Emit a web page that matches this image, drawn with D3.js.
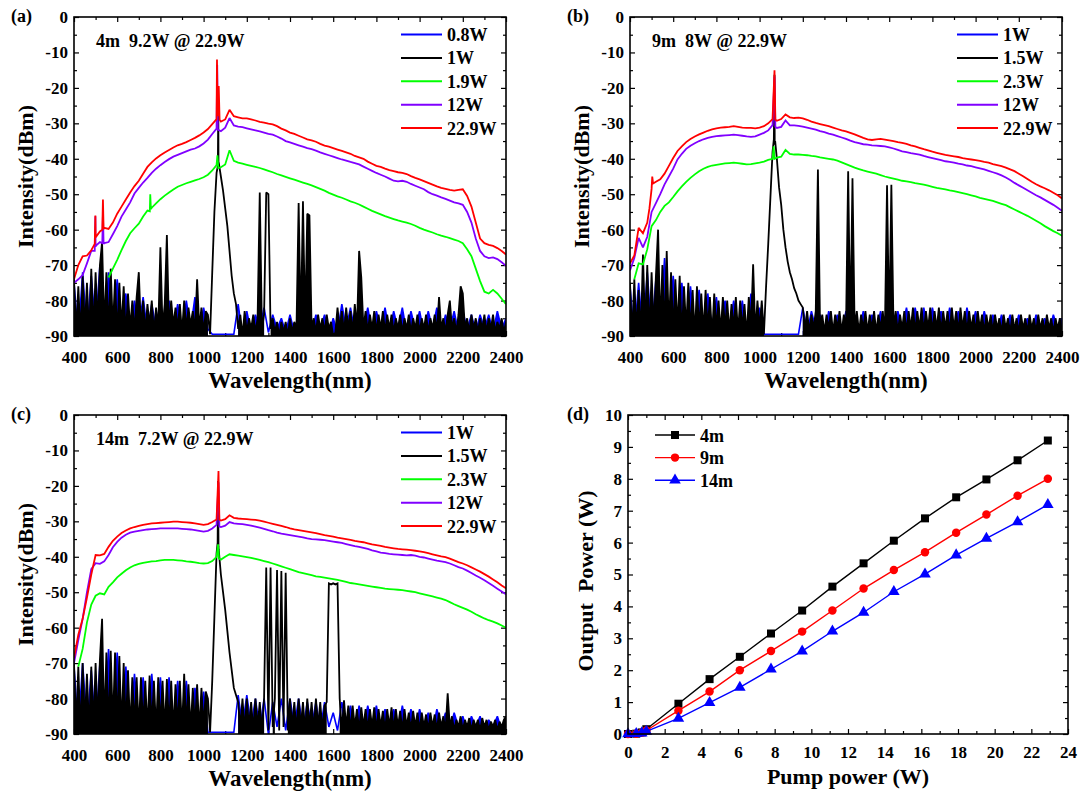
<!DOCTYPE html>
<html><head><meta charset="utf-8">
<script src="https://cdnjs.cloudflare.com/ajax/libs/d3/7.8.5/d3.min.js"></script>
<style>
body{margin:0;background:#fff}
svg{display:block}
</style></head>
<body><svg id="c" width="1084" height="791"></svg>
<script>
// ---------------- DATA ----------------
const wl20 = d3.range(400, 2401, 20);   // 101 wavelengths (nm)
const wl10 = d3.range(400, 2401, 10);   // 201 wavelengths (nm)
const specXTicks = [400,600,800,1000,1200,1400,1600,1800,2000,2200,2400];
const specYTicks = [0,-10,-20,-30,-40,-50,-60,-70,-80,-90];
const legendA = ["0.8W","1W","1.9W","12W","22.9W"];
const legendB = ["1W","1.5W","2.3W","12W","22.9W"];
const legendC = ["1W","1.5W","2.3W","12W","22.9W"];
const noteA = "4m  9.2W @ 22.9W";
const noteB = "9m  8W @ 22.9W";
const noteC = "14m  7.2W @ 22.9W";

// ---- panel (a) 4 m ----
const a_blue = [
-75,-90,-72,-89,-73,-88,-70,-90,-72,-89,
-74,-88,-78,-89,-80,-88,-79,-89,-81,-88,
-80,-89,-80,-88,-81,-89,-80,-88,-79,-89,
-82,-88,-89.5,-89.5,-89.5,-89.5,-89.5,-89.5,-81,-90,
-83,-89,-84,-88,-82,-89,-84,-88,-85,-89,
-84,-89,-85,-88,-83,-89,-84,-88,-84,-90,
-85,-89,-81,-88,-82,-89,-82,-88,-82,-89,
-83,-88,-82,-89,-83,-88,-82,-89,-83,-88,
-83,-89,-83,-88,-82,-89,-84,-88,-83,-89,
-83,-88,-84,-89,-84,-88,-84,-89,-83,-88,
-85];
const a_black = [
-74,-89,-76,-90,-73,-88,-75,-90,-71,-89,
-72,-87,-70,-63.5,-88,-72,-89,-71,-88,-74,
-90,-75,-88,-76,-90,-78,-88,-80,-89,-79,
-72,-88,-80,-89,-81,-87,-80,-89,-82,-88,
-65,-88,-81,-61.5,-88,-80,-87,-82,-88,-81,
-89,-80,-88,-82,-87,-83,-89,-74,-88,-82,
-89,-83,-84,-89.5,-72,-55,-44,-41,-45,-49,
-54,-59,-66,-73,-78,-81,-88,-84,-90,-83,
-89,-85,-88,-84,-89,-85,-49.5,-88,-84,-49.5,
-50,-88,-85,-89,-86,-90,-86,-89,-86,-90,
-85,-89,-86,-88,-52.5,-88,-52,-87,-55.5,-56,
-88,-85,-89,-84,-88,-85,-89,-84,-88,-86,
-90,-89,-82,-88,-83,-89,-82,-88,-83,-89,
-81,-88,-66,-73.5,-88,-83,-89,-84,-88,-83,
-89,-84,-88,-83,-89,-84,-88,-84,-89,-85,
-88,-84,-89,-85,-88,-84,-89,-85,-88,-84,
-89,-85,-88,-84,-89,-85,-88,-84,-89,-79,
-88,-85,-89,-84,-80,-88,-85,-89,-84,-76,
-78,-88,-85,-89,-84,-88,-85,-89,-85,-88,
-84,-89,-85,-88,-84,-89,-86,-88,-85,-89,
-86];
const a_blackPeak = [[1066,-42],[1068,-25],[1069,-42]];
const a_green = [
null,null,null,null,null,null,null,null,-73.5,-71,
-68.5,-65.8,-63.2,-61,-59.6,-58.3,-56.3,-54.6,-53.8,-52.6,
-51.4,-50.4,-49.5,-48.7,-47.9,-47.4,-46.9,-46.5,-46.1,-45.7,
-45.2,-44.5,-43.3,-41.8,-42.4,-41.6,-37.6,-40.6,-41.1,-41.4,
-41.7,-42,-42.3,-42.6,-43,-43.4,-43.8,-44.3,-44.7,-45.1,
-45.5,-45.9,-46.3,-46.7,-47.1,-47.5,-48,-48.5,-49,-49.6,
-50.1,-50.6,-51,-51.5,-52,-52.4,-52.9,-53.5,-54.1,-54.7,
-55.2,-55.7,-56.2,-56.6,-57,-57.4,-57.7,-58,-58.4,-58.9,
-59.5,-60,-60.4,-60.8,-61.3,-61.7,-62,-62.4,-62.8,-63.2,
-63.8,-65.5,-67.5,-71,-74.5,-77.5,-78,-77,-78,-79.5,
-81];
const a_greenPeak = [[751,-54.8],[753,-50],[756,-54.2],[1064,-39],[1068,-42.6]];
const a_purple = [
-75,-74,-72.8,-69.5,-66,-64.8,-63.5,-63.8,-63.5,-61.3,
-59,-56.3,-54.3,-52.3,-49.8,-48.2,-46.7,-45.4,-44,-42.8,
-41.8,-40.9,-40.1,-39.4,-38.9,-38.4,-37.9,-37.4,-37.1,-36.5,
-35.7,-34.6,-33,-31.5,-32.2,-31.2,-28.5,-30.6,-30.9,-31.1,
-31.4,-31.7,-32,-32.3,-32.6,-33,-33.2,-33.7,-34.3,-35,
-35.4,-35.8,-36.2,-36.6,-37,-37.3,-37.7,-38.2,-38.6,-39,
-39.4,-39.8,-40.2,-40.5,-40.9,-41.2,-41.6,-42.2,-42.8,-43.4,
-44,-44.5,-45,-45.6,-46.2,-46.4,-46.2,-46.5,-47.1,-47.6,
-48.1,-48.6,-49.4,-50,-50.4,-50.9,-51.3,-51.8,-52.3,-52.6,
-53,-55,-58,-62.5,-66,-67.5,-68,-67.8,-68.3,-69.2,
-70.2];
const a_purplePeak = [[496,-66],[499,-56.2],[502,-64.5],[531,-63.8],[534,-55.4],[537,-64],[1063,-13.5],[1066,-31.8]];
const a_red = [
-74,-70,-67.5,-67.3,-65.8,-62,-60.5,-59.5,-59.8,-58,
-55.5,-53.5,-51.5,-49.5,-47.7,-46.2,-44.2,-42.3,-41,-39.9,
-39,-38.2,-37.5,-36.8,-36.2,-35.8,-35.3,-34.7,-34.1,-33.4,
-32.6,-31.6,-30.2,-28.8,-29.5,-28.9,-26.2,-28,-28.3,-28.6,
-28.6,-28.9,-29.2,-29.6,-29.8,-30.1,-30.3,-30.8,-31.5,-32,
-32.6,-33,-33.5,-34,-34.5,-34.8,-35.2,-35.8,-36.3,-36.6,
-37,-37.4,-37.8,-38.2,-38.6,-39.2,-39.6,-40,-40.8,-41.4,
-42,-42.3,-42.8,-43.2,-43.5,-43.8,-44,-44.3,-44.9,-45.4,
-45.8,-46.3,-46.8,-47.3,-47.8,-48.2,-48.5,-48.8,-49,-48.8,
-48.6,-50.5,-53.5,-58,-62.5,-63.8,-64.3,-64.6,-65.2,-66,
-67];
const a_redPeak = [[496,-64],[499,-56],[502,-62],[531,-60],[534,-51.5],[537,-59.8],[1062,-12],[1065,-28],[1070,-19.5],[1074,-29]];

// ---- panel (b) 9 m ----
const b_blue = [
-76,-90,-75,-90,-72,-89,-74,-88,-68,-89,
-73,-88,-75,-89,-76,-88,-77,-89,-78,-88,
-79,-90,-80,-88,-80,-89,-80,-90,-78,-90,
-82,-89.5,-89.5,-89.5,-89.5,-89.5,-89.5,-89.5,-89.5,-89.5,
-82,-89,-83,-88,-84,-90,-83,-88,-84,-89,
-83,-88,-84,-89,-83,-88,-84,-89,-83,-90,
-84,-89,-83,-88,-82,-89,-82,-88,-82,-89,
-82,-88,-83,-89,-82,-88,-83,-89,-82,-88,
-83,-89,-83,-88,-84,-89,-84,-88,-84,-89,
-84,-88,-85,-89,-84,-88,-85,-89,-84,-88,
-85];
const b_black = [
-75,-90,-74,-89,-77,-90,-67,-88,-70,-90,
-72,-88,-73,-60,-88,-70,-89,-66,-88,-72,
-89,-74,-88,-73,-90,-76,-88,-75,-89,-77,
-90,-76,-88,-78,-89,-77,-88,-79,-90,-78,
-88,-80,-89,-79,-88,-80,-89,-81,-88,-79,
-89,-80,-88,-81,-90,-79,-88,-69.8,-89,-80,
-88,-80,-89.5,-76,-64,-51,-38,-36,-40,-48,
-53,-60,-65,-69,-72,-74,-76.5,-78,-80,-81,
-82,-88,-83,-89,-84,-88,-83,-43,-88,-84,
-89,-84,-88,-83,-89,-84,-88,-83,-89,-84,
-88,-43.5,-89,-45.5,-88,-83,-89,-84,-88,-83,
-89,-84,-88,-83,-89,-84,-88,-83,-89,-47.5,
-89,-47.3,-88,-83,-89,-84,-88,-83,-89,-83,
-88,-82,-89,-83,-88,-82,-89,-83,-88,-82,
-89,-83,-88,-82,-89,-83,-88,-83,-89,-82,
-88,-83,-89,-82,-88,-83,-89,-83,-88,-84,
-89,-83,-88,-84,-89,-84,-88,-84,-89,-84,
-88,-85,-89,-84,-88,-85,-89,-84,-88,-85,
-89,-84,-88,-85,-89,-84,-88,-85,-89,-84,
-88,-85,-89,-84,-88,-85,-89,-85,-88,-85,
-89];
const b_blackPeak = [[1066,-34.5],[1069,-16.3],[1072,-35]];
const b_green = [
null,-74,-69.5,-69.8,-65.5,-59,-57.3,-55,-53.3,-52.3,
-50.8,-49.2,-47.8,-46.5,-45.4,-44.4,-43.5,-42.8,-42.3,-41.9,
-41.7,-41.5,-41.3,-41.2,-41.1,-41.2,-41.4,-41.6,-41.5,-41.3,
-41.1,-40.8,-40.3,-40,-39.7,-39.4,-37.5,-38.6,-38.8,-38.8,
-38.9,-39,-39.2,-39.3,-39.6,-39.8,-40,-40.2,-40.5,-41,
-41.5,-42,-42.5,-42.9,-43.3,-43.6,-43.9,-44.2,-44.6,-45,
-45.3,-45.6,-45.9,-46.2,-46.4,-46.6,-46.9,-47.1,-47.3,-47.6,
-47.9,-48.2,-48.4,-48.6,-48.9,-49.1,-49.4,-49.7,-50,-50.3,
-50.6,-51,-51.3,-51.6,-51.9,-52.3,-52.7,-53.1,-53.7,-54.3,
-54.9,-55.5,-56.1,-56.8,-57.5,-58.2,-59,-59.7,-60.4,-61,
-61.7];
const b_greenPeak = [[1065,-36.5],[1069,-40]];
const b_purple = [
-71.5,-68,-62.3,-65,-62,-55,-52.5,-50,-47.2,-45,
-42.8,-40.2,-38.6,-37.2,-36.3,-35.6,-35,-34.5,-34.1,-33.8,
-33.6,-33.5,-33.4,-33.3,-33.2,-33.3,-33.5,-33.7,-33.8,-33.7,
-33.2,-32.7,-32,-30.5,-31.3,-31,-29.2,-30.6,-30.6,-30.7,
-30.9,-31.2,-31.5,-31.8,-32.2,-32.5,-32.9,-33.2,-33.6,-34,
-34.4,-34.9,-35.3,-35.6,-35.9,-36,-36.2,-36.3,-36.4,-36.5,
-36.8,-37.1,-37.5,-37.9,-38.1,-38.4,-38.6,-38.8,-39.2,-39.5,
-39.8,-40.1,-40.4,-40.7,-40.9,-41.1,-41.4,-41.6,-41.9,-42.1,
-42.4,-42.7,-43,-43.4,-43.8,-44.2,-44.7,-45.3,-46,-46.8,
-47.5,-48.2,-48.9,-49.6,-50.3,-50.9,-51.6,-52.3,-53,-53.8,
-54.7];
const b_purplePeak = [[1069,-16.8],[1073,-31]];
const b_red = [
-69.5,-67.3,-59.5,-61,-58,-48.5,-46.5,-45.8,-44.2,-42,
-39.8,-37.8,-36.5,-35.3,-34.4,-33.7,-33.1,-32.6,-32.1,-31.7,
-31.4,-31.2,-31.1,-31,-30.8,-31,-31.2,-31.3,-31.3,-31.4,
-31.2,-30.8,-30,-28.8,-29.3,-28.8,-27.5,-28.3,-28.5,-28.4,
-28.6,-29,-29.5,-29.9,-30.2,-30.5,-30.8,-31.2,-31.6,-32,
-32.3,-32.7,-33.1,-33.6,-34.1,-34.5,-34.7,-34.5,-34.4,-34.6,
-34.8,-35,-35.3,-35.5,-35.8,-36.2,-36.5,-36.9,-37.3,-37.6,
-38,-38.3,-38.6,-38.9,-39.1,-39.3,-39.5,-39.8,-40,-40.2,
-40.4,-40.6,-40.9,-41.1,-41.5,-41.8,-42.1,-42.5,-43,-43.5,
-44.2,-44.9,-45.7,-46.5,-47.2,-47.8,-48.3,-48.9,-49.6,-50.3,
-51.2];
const b_redPeak = [[490,-54],[503,-45],[507,-47],[1069,-15],[1073,-29]];

// ---- panel (c) 14 m ----
const c_blue = [
-71,-89,-70,-88,-72,-89,-70,-88,-66,-89,
-67,-88,-71,-89,-73,-88,-74,-89,-73,-88,
-74,-89,-74,-88,-75,-89,-75,-88,-77,-89,
-78,-89.5,-89.5,-89.5,-89.5,-89.5,-89.5,-89.5,-79,-88,
-79,-88,-80,-89,-80,-90,-81,-88,-80,-89,
-80,-88,-80,-89,-81,-88,-81,-89,-81,-88,
-84,-89,-81,-88,-82,-89,-82,-88,-82,-88,
-82,-89,-83,-88,-83,-89,-82,-88,-83,-89,
-83,-88,-84,-89,-83,-88,-84,-89,-84,-88,
-85,-89,-85,-88,-85,-89,-86,-88,-85,-89,
-86];
const c_black = [
-70,-88,-71,-90,-70,-87,-73,-89,-71,-88,
-70,-87,-69,-57.5,-88,-67,-89,-66.5,-88,-67,
-88,-68,-89,-70,-88,-72,-89,-74,-88,-74,
-89,-74,-88,-75,-89,-73.5,-88,-75,-89,-74,
-88,-75,-89,-74.5,-88,-75,-89,-76,-88,-75,
-89,-73,-88,-76,-89,-77,-88,-76,-89,-77,
-88,-78,-80,-89.5,-75,-57,-39,-38,-45,-50,
-55,-61,-67,-72,-77,-79,-81,-88,-80,-89,
-80,-88,-81,-89,-80,-88,-81,-89,-80,-43,
-89,-43,-88,-80,-43.7,-89,-44,-88,-44.5,-89,
-80,-88,-81,-89,-80,-88,-81,-89,-80,-88,
-81,-89,-80,-88,-81,-89,-82,-81,-47.5,-47.8,
-47.5,-47.8,-47.5,-80,-89,-80.5,-88,-82,-89,-82,
-88,-83,-89,-82.5,-88,-83,-89,-83,-88,-82.5,
-89,-83,-88,-83.5,-89,-83,-88,-82.5,-89,-83,
-88,-83.5,-89,-83,-88,-84,-89,-83.5,-88,-84,
-89,-84,-88,-84.5,-89,-84,-88,-84.5,-89,-84,
-88,-85,-89,-78.5,-88,-85,-89,-86,-88,-85,
-89,-86,-88,-85.5,-89,-86,-88,-86,-89,-85.5,
-88,-86,-89,-86.5,-88,-86,-89,-86.5,-88,-86,
-85];
const c_blackPeak = [[1065,-36],[1067,-18.6],[1069,-37]];
const c_green = [
null,-71,-66,-58.5,-53.5,-51,-50.3,-50.6,-48.5,-47.2,
-45.8,-44.8,-43.8,-43,-42.4,-42,-41.7,-41.5,-41.3,-41.2,
-41,-40.9,-40.9,-40.9,-41,-41.1,-41.3,-41.4,-41.6,-41.8,
-41.9,-41.8,-41.2,-40,-40.8,-40,-39.3,-39.5,-39.7,-39.9,
-40.1,-40.3,-40.6,-40.9,-41.2,-41.5,-41.9,-42.3,-42.7,-43.1,
-43.5,-43.9,-44.3,-44.6,-44.9,-45.2,-45.5,-45.7,-45.9,-46.1,
-46.3,-46.5,-46.8,-47.1,-47.4,-47.6,-47.8,-48,-48.2,-48.4,
-48.6,-48.8,-49,-49.1,-49.2,-49.3,-49.4,-49.6,-49.8,-50,
-50.3,-50.6,-50.9,-51.2,-51.5,-51.8,-52.2,-52.8,-53.4,-53.9,
-54.4,-54.9,-55.5,-56.2,-56.8,-57.4,-57.9,-58.3,-58.8,-59.4,
-60];
const c_greenPeak = [[1067,-36.5],[1071,-40.5]];
const c_purple = [
-70,-63.5,-57.5,-50,-43.5,-41.8,-42,-41.3,-39.5,-37.3,
-35.8,-34.6,-33.8,-33.2,-32.9,-32.7,-32.5,-32.3,-32.2,-32.1,
-32,-32,-32,-32,-32,-32.1,-32.2,-32.3,-32.5,-32.7,
-32.9,-32.7,-32,-31,-31.6,-31.2,-30.2,-30.6,-30.7,-30.8,
-31,-31.2,-31.5,-31.8,-32.1,-32.5,-32.8,-33.2,-33.5,-33.7,
-33.9,-34.1,-34.3,-34.5,-34.8,-35,-35.1,-35.2,-35.3,-35.5,
-35.7,-35.9,-36.1,-36.4,-36.7,-37,-37.2,-37.5,-37.8,-38.2,
-38.5,-38.8,-39,-39.2,-39.3,-39.4,-39.5,-39.6,-39.5,-39.7,
-40,-40.2,-40.5,-40.8,-41.1,-41.3,-41.5,-41.9,-42.4,-42.9,
-43.3,-43.9,-44.6,-45.3,-45.9,-46.6,-47.4,-48.2,-49,-49.8,
-50.6];
const c_purplePeak = [[1069,-19],[1073,-31.5]];
const c_red = [
-68.5,-62,-57.5,-51.5,-45,-39.5,-39.6,-39.2,-37.2,-35.5,
-34.3,-33.3,-32.6,-32,-31.6,-31.3,-31,-30.8,-30.6,-30.5,
-30.4,-30.3,-30.2,-30.1,-30.1,-30.2,-30.3,-30.4,-30.6,-30.8,
-31,-30.8,-30.2,-29.5,-29.8,-29.4,-28.3,-29,-29.2,-29.3,
-29.4,-29.5,-29.6,-29.8,-30.1,-30.4,-30.7,-31,-31.3,-31.6,
-32,-32.3,-32.5,-32.7,-32.9,-33.1,-33.3,-33.6,-33.9,-34.1,
-34.3,-34.6,-34.8,-35,-35.2,-35.5,-35.7,-35.9,-36.2,-36.5,
-36.7,-36.9,-37.2,-37.4,-37.6,-37.8,-37.9,-38,-38.1,-38.3,
-38.5,-38.7,-39,-39.3,-39.6,-39.9,-40.1,-40.5,-41,-41.5,
-41.9,-42.4,-43,-43.6,-44.2,-44.9,-45.6,-46.4,-47.2,-48.1,
-48.9];
const c_redPeak = [[1069,-15.8],[1073,-29.5]];

// wavelength ranges (nm) where the dense noise floor is absent (peak / narrow lines)
const a_gaps = [[1025,1150],[1285,1305]];
const b_gaps = [[1025,1195]];
const c_gaps = [[1025,1150],[1285,1315],[1335,1385],[1575,1625]];

// ---- panel (d) output power ----
const pump   = [0,0.45,0.75,1.0,2.75,4.45,6.1,7.8,9.5,11.15,12.85,14.5,16.2,17.9,19.55,21.25,22.9];
const out4m  = [0,0.01,0.05,0.15,0.95,1.72,2.42,3.15,3.87,4.62,5.35,6.06,6.76,7.42,7.98,8.58,9.2];
const out9m  = [0,0.01,0.04,0.11,0.73,1.33,2.0,2.6,3.21,3.87,4.56,5.14,5.7,6.31,6.88,7.47,8.0];
const out14m = [0,0.01,0.03,0.08,0.49,0.98,1.46,2.03,2.6,3.22,3.81,4.46,5.01,5.61,6.13,6.65,7.19];
const lenLabels = ["4m","9m","14m"];
const pumpTicks = [0,2,4,6,8,10,12,14,16,18,20,22,24];
const outTicks  = [0,1,2,3,4,5,6,7,8,9,10];

// ---------------- DRAWING ----------------
const FONT = '"Liberation Serif","Times New Roman",serif';
const COLORS = ["#0000ff","#000000","#00ff00","#8000ff","#ff0000"];
const svg = d3.select("#c");

function mk(grid, vals, extra) {
  const a = [];
  grid.forEach((w,i)=>{ if (vals[i] != null) a.push([w, vals[i]]); });
  return a.concat(extra || []).sort((p,q)=>p[0]-q[0]);
}
function txt(sel, size) {
  return sel.attr("font-family", FONT).attr("font-weight","bold")
            .attr("font-size", size).attr("fill","#000");
}

function axes(g, x, y, p, o) {
  const tk = (sel) => { sel.select(".domain").remove();
    sel.selectAll(".tick line").attr("stroke","#000").attr("stroke-width",1.2); };
  g.append("g").attr("transform",`translate(0,${p.y1})`)
    .call(d3.axisBottom(x).tickValues(o.xMajor).tickSize(-5).tickPadding(o.xPad).tickFormat(o.xFmt)).call(tk)
    .selectAll("text").call(t=>txt(t,17));
  g.append("g").attr("transform",`translate(0,${p.y1})`)
    .call(d3.axisBottom(x).tickValues(o.xMinor).tickSize(-3).tickFormat("")).call(tk);
  g.append("g").attr("transform",`translate(0,${p.y0})`)
    .call(d3.axisTop(x).tickValues(o.xMajor).tickSize(-5).tickFormat("")).call(tk);
  g.append("g").attr("transform",`translate(0,${p.y0})`)
    .call(d3.axisTop(x).tickValues(o.xMinor).tickSize(-3).tickFormat("")).call(tk);
  g.append("g").attr("transform",`translate(${p.x0},0)`)
    .call(d3.axisLeft(y).tickValues(o.yMajor).tickSize(-5).tickPadding(6).tickFormat(o.yFmt)).call(tk)
    .selectAll("text").call(t=>txt(t,17));
  g.append("g").attr("transform",`translate(${p.x0},0)`)
    .call(d3.axisLeft(y).tickValues(o.yMinor).tickSize(-3).tickFormat("")).call(tk);
  g.append("g").attr("transform",`translate(${p.x1},0)`)
    .call(d3.axisRight(y).tickValues(o.yMajor).tickSize(-5).tickFormat("")).call(tk);
  g.append("g").attr("transform",`translate(${p.x1},0)`)
    .call(d3.axisRight(y).tickValues(o.yMinor).tickSize(-3).tickFormat("")).call(tk);
}

function frame(g, p) {
  g.append("rect").attr("x",p.x0).attr("y",p.y0).attr("width",p.x1-p.x0).attr("height",p.y1-p.y0)
    .attr("fill","none").attr("stroke","#000").attr("stroke-width",1.6);
}

function spectrum(id, p, series, labels, note, tag, gaps) {
  const g = svg.append("g");
  const x = d3.scaleLinear().domain([400,2400]).range([p.x0,p.x1]);
  const y = d3.scaleLinear().domain([-90,0]).range([p.y1,p.y0]);
  axes(g, x, y, p, {
    xMajor: specXTicks, xMinor: d3.range(500,2400,200), xPad: 15, xFmt: d=>String(d),
    yMajor: specYTicks, yMinor: d3.range(-5,-90,-10), yFmt: d=>String(d)
  });
  g.append("clipPath").attr("id","clip"+id).append("rect")
    .attr("x",p.x0).attr("y",p.y0).attr("width",p.x1-p.x0).attr("height",p.y1-p.y0);
  const line = d3.line().x(d=>x(d[0])).y(d=>y(d[1]));
  const inGap = w => gaps.some(r => w >= r[0] && w <= r[1]);
  const area = d3.area().defined(d=>!inGap(d[0])).x(d=>x(d[0])).y0(y(-90)).y1(d=>y(d[1]));
  series.forEach((s,i)=>{
    if (s.dense) {
      g.append("path").attr("clip-path",`url(#clip${id})`).attr("d",area(s.pts))
        .attr("fill",COLORS[i]).attr("stroke","none");
    }
    g.append("path").attr("clip-path",`url(#clip${id})`).attr("d",line(s.pts))
      .attr("fill","none").attr("stroke",COLORS[i]).attr("stroke-width",s.w)
      .attr("stroke-linejoin","miter").attr("stroke-miterlimit",2);
  });
  frame(g, p);
  // legend
  labels.forEach((l,i)=>{
    const ly = p.y0 + 17.5 + i*23.4;
    g.append("line").attr("x1",p.x0+327).attr("x2",p.x0+368).attr("y1",ly).attr("y2",ly)
      .attr("stroke",COLORS[i]).attr("stroke-width",2);
    g.append("text").attr("x",p.x0+373).attr("y",ly+6.5).text(l).call(t=>txt(t,18));
  });
  g.append("text").attr("x",p.x0+22).attr("y",p.y0+29.5).style("white-space","pre")
    .text(note).call(t=>txt(t,18));
  g.append("text").attr("x",p.x0-63).attr("y",p.y0+5).text(tag).call(t=>txt(t,18));
  g.append("text").attr("text-anchor","middle")
    .attr("transform",`translate(${p.x0-41},${(p.y0+p.y1)/2}) rotate(-90)`)
    .text("Intensity(dBm)").call(t=>txt(t,22));
  g.append("text").attr("text-anchor","middle").attr("x",(p.x0+p.x1)/2).attr("y",p.y1+52)
    .text("Wavelength(nm)").call(t=>txt(t,23));
}

spectrum("a", {x0:74,x1:506,y0:17,y1:336}, [
  {pts: mk(wl20,a_blue), w:1.6, dense:true},
  {pts: mk(wl10,a_black,a_blackPeak), w:1.8, dense:true},
  {pts: mk(wl20,a_green,a_greenPeak), w:1.8},
  {pts: mk(wl20,a_purple,a_purplePeak), w:1.8},
  {pts: mk(wl20,a_red,a_redPeak), w:1.8}
], legendA, noteA, "(a)", a_gaps);

spectrum("b", {x0:630,x1:1062,y0:17,y1:336}, [
  {pts: mk(wl20,b_blue), w:1.6, dense:true},
  {pts: mk(wl10,b_black,b_blackPeak), w:1.8, dense:true},
  {pts: mk(wl20,b_green,b_greenPeak), w:1.8},
  {pts: mk(wl20,b_purple,b_purplePeak), w:1.8},
  {pts: mk(wl20,b_red,b_redPeak), w:1.8}
], legendB, noteB, "(b)", b_gaps);

spectrum("c", {x0:74,x1:506,y0:415,y1:734}, [
  {pts: mk(wl20,c_blue), w:1.6, dense:true},
  {pts: mk(wl10,c_black,c_blackPeak), w:1.8, dense:true},
  {pts: mk(wl20,c_green,c_greenPeak), w:1.8},
  {pts: mk(wl20,c_purple,c_purplePeak), w:1.8},
  {pts: mk(wl20,c_red,c_redPeak), w:1.8}
], legendC, noteC, "(c)", c_gaps);

// panel (d)
(function(){
  const p = {x0:628,x1:1068,y0:415,y1:734};
  const g = svg.append("g");
  const x = d3.scaleLinear().domain([0,24]).range([p.x0,p.x1]);
  const y = d3.scaleLinear().domain([0,10]).range([p.y1,p.y0]);
  axes(g, x, y, p, {
    xMajor: pumpTicks, xMinor: d3.range(1,24,2), xPad: 12, xFmt: d=>String(d),
    yMajor: outTicks, yMinor: d3.range(0.5,10,1), yFmt: d=>String(d)
  });
  const sets = [
    {v: out4m, c:"#000000", m:"square"},
    {v: out9m, c:"#ff0000", m:"circle"},
    {v: out14m, c:"#0000ff", m:"triangle"}
  ];
  const sym = {square: d3.symbol(d3.symbolSquare, 64), circle: d3.symbol(d3.symbolCircle, 56),
               triangle: d3.symbol(d3.symbolTriangle, 58)};
  const line = d3.line().x(d=>x(d[0])).y(d=>y(d[1]));
  sets.forEach(s=>{
    const pts = pump.map((pw,i)=>[pw, s.v[i]]);
    g.append("path").attr("d",line(pts)).attr("fill","none").attr("stroke",s.c).attr("stroke-width",1.4);
    g.selectAll(null).data(pts).enter().append("path")
      .attr("transform",d=>`translate(${x(d[0])},${y(d[1])})`)
      .attr("d",sym[s.m]()).attr("fill",s.c);
  });
  frame(g, p);
  sets.forEach((s,i)=>{
    const ly = 435 + i*22.6;
    g.append("line").attr("x1",655).attr("x2",695).attr("y1",ly).attr("y2",ly)
      .attr("stroke",s.c).attr("stroke-width",1.4);
    g.append("path").attr("transform",`translate(675,${ly})`).attr("d",sym[s.m]()).attr("fill",s.c);
    g.append("text").attr("x",700).attr("y",ly+6.5).text(lenLabels[i]).call(t=>txt(t,18));
  });
  g.append("text").attr("x",p.x0-61).attr("y",p.y0+5).text("(d)").call(t=>txt(t,18));
  g.append("text").attr("text-anchor","middle").style("white-space","pre")
    .attr("transform",`translate(593,581) rotate(-90)`)
    .text("Output  Power (W)").call(t=>txt(t,22));
  g.append("text").attr("text-anchor","middle").attr("x",(p.x0+p.x1)/2).attr("y",784)
    .text("Pump power (W)").call(t=>txt(t,22));
})();
</script>
</body></html>
